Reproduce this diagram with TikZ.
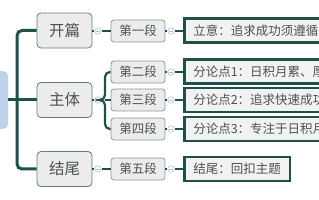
\documentclass[tikz,border=0pt]{standalone}
\usepackage{fontspec}
\setmainfont{Noto Sans CJK SC}
\usetikzlibrary{positioning}

\definecolor{trunk}{HTML}{1F5049}
\definecolor{boxfill}{HTML}{ECECEC}
\definecolor{pointfill}{HTML}{F2F2F2}
\definecolor{topicline}{HTML}{5E8078}
\definecolor{paraline}{HTML}{8A9A96}
\definecolor{foldring}{HTML}{B4BCE4}
\definecolor{rootblue}{HTML}{BFD1E8}
\definecolor{labeltext}{HTML}{4A5250}

\begin{document}
\begin{tikzpicture}[x=1pt,y=-1pt,
  rootbox/.style={fill=rootblue, rounded corners=5pt, minimum width=20pt, minimum height=58pt},
  topic/.style={draw=topicline, line width=0.8pt, fill=boxfill, rounded corners=4pt,
    minimum width=55pt, minimum height=35pt, text=labeltext, font=\fontsize{15.5}{16}\selectfont},
  para/.style={draw=paraline, line width=0.8pt, fill=boxfill, rounded corners=3pt,
    minimum width=54pt, minimum height=22pt, inner sep=1pt, text=labeltext, font=\fontsize{12.5}{13}\selectfont},
  point/.style={draw=trunk, line width=2.5pt, fill=pointfill, anchor=west, minimum height=24pt,
    inner xsep=9pt, inner ysep=1pt, align=left, text=labeltext, font=\fontsize{12.5}{13}\selectfont},
  fold/.style={circle, draw=foldring, fill=white, line width=0.6pt, minimum size=6.5pt, inner sep=0pt,
    path picture={\draw[foldring, line width=0.6pt]
      ([xshift=-2pt]path picture bounding box.center) -- ([xshift=2pt]path picture bounding box.center);}},
  link/.style={draw=trunk, line width=2.2pt, rounded corners=5pt}
]
  \useasboundingbox (0,0) rectangle (319,200);

  % Root and main topics
  \node[rootbox] (root) at (-2,100) {};
  \node[topic] (kaipian) at (64.5,30.5) {开篇};
  \node[topic] (zhuti)   at (64.5,100)  {主体};
  \node[topic] (jiewei)  at (64.5,169)  {结尾};

  % Spine from the root
  \coordinate (spine) at (17,100);
  \draw[link, line width=3pt] (root.east) -- (zhuti.west);
  \draw[link, line width=3pt] (spine) |- (kaipian.west);
  \draw[link, line width=3pt] (spine) |- (jiewei.west);

  % Paragraph boxes
  \node[para] (duan1) at (138,31)  {第一段};
  \node[para] (duan2) at (138,72)  {第二段};
  \node[para] (duan3) at (138,100) {第三段};
  \node[para] (duan4) at (138,129) {第四段};
  \node[para] (duan5) at (138,169) {第五段};

  % Fold markers after the topics
  \node[fold] (foldA) at (98,31)  {};
  \node[fold] (foldB) at (98,100) {};
  \node[fold] (foldC) at (98,169) {};
  \coordinate (fork) at (105,100);

  \draw[link] (kaipian.east |- foldA) -- (foldA);
  \draw[link] (zhuti.east) -- (foldB);
  \draw[link] (jiewei.east |- foldC) -- (foldC);
  \draw[link] (foldA) -- (duan1.west |- foldA);
  \draw[link] (foldB) -- (fork) |- (duan2.west);
  \draw[link] (foldB) -- (fork) |- (duan4.west);
  \draw[link] (fork) -- (duan3.west);
  \draw[link] (foldC) -- (duan5.west);

  % Content boxes (they run past the right edge)
  \node[point, text width=170pt] (lizhi)    at (183,30.5) {立意：追求成功须遵循};
  \node[point, text width=170pt] (lundian1) at (183,71.5) {分论点1：日积月累、厚};
  \node[point, text width=170pt] (lundian2) at (183,100)  {分论点2：追求快速成功};
  \node[point, text width=170pt] (lundian3) at (183,129)  {分论点3：专注于日积月};
  \node[point] (jieyu) at (183,169) {结尾：回扣主题};

  % Fold markers after the paragraphs
  \foreach \d/\c in {duan1/lizhi, duan2/lundian1, duan3/lundian2, duan4/lundian3, duan5/jieyu}{
    \node[fold] (f-\d) at (171,0 |- \d) {};
    \draw[link] (\d.east) -- (f-\d);
    \draw[link] (f-\d) -- (\c.west |- f-\d);
  }
\end{tikzpicture}
\end{document}
